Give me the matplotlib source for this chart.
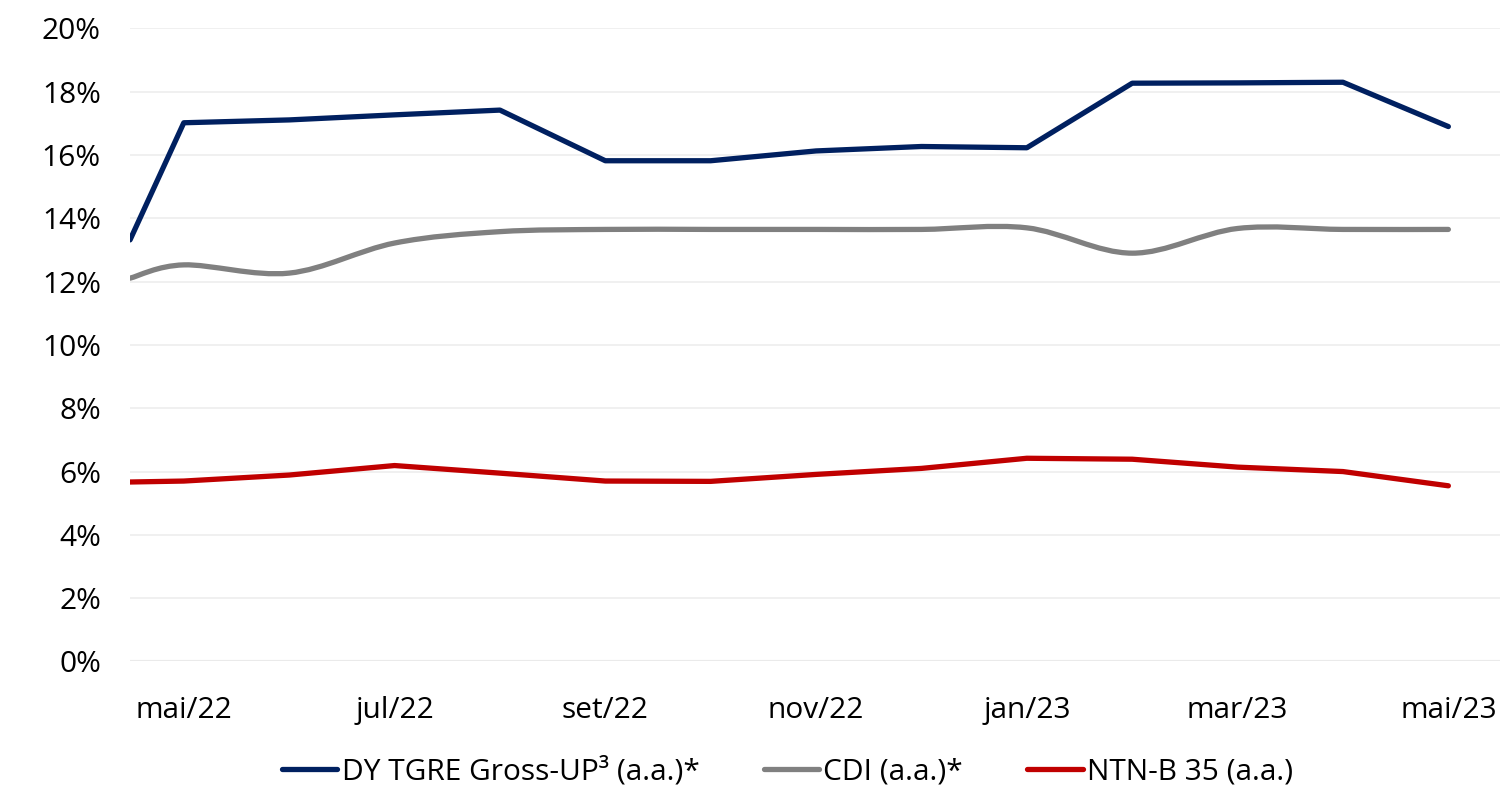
import numpy as np
import matplotlib
matplotlib.use('Agg')
import matplotlib.pyplot as plt
from matplotlib.path import Path
from matplotlib.patches import PathPatch
from matplotlib.lines import Line2D
from matplotlib.ticker import FuncFormatter

plt.rcParams['font.family'] = ['Open Sans', 'DejaVu Sans']

# month index (0 = mai/22); first point sits half a month before
months = [-0.51, 0, 1, 2, 3, 4, 5, 6, 7, 8, 9, 10, 11, 12]
tick_pos = [0, 2, 4, 6, 8, 10, 12]
tick_labels = ['mai/22', 'jul/22', 'set/22', 'nov/22', 'jan/23', 'mar/23', 'mai/23']

dy_tgre = [13.32, 17.02, 17.11, 17.27, 17.42, 15.82, 15.82, 16.13, 16.27, 16.23,
           18.27, 18.28, 18.30, 16.90]
cdi = [12.11, 12.53, 12.27, 13.22, 13.58, 13.65, 13.65, 13.65, 13.65, 13.70,
       12.90, 13.68, 13.65, 13.65]
ntnb = [5.67, 5.70, 5.89, 6.19, 5.95, 5.70, 5.69, 5.91, 6.10, 6.42,
        6.39, 6.14, 6.00, 5.55]

NAVY = '#002060'
GRAY = '#808080'
RED = '#C00000'
LW = 3.8
FS = 21.5


def smooth_path(x, y):
    """Excel-style smoothed line: cubic Bezier segments through every point."""
    x = np.asarray(x, float)
    y = np.asarray(y, float)
    verts = [(x[0], y[0])]
    codes = [Path.MOVETO]
    n = len(x)
    for i in range(n - 1):
        i0 = max(i - 1, 0)
        i3 = min(i + 2, n - 1)
        c1 = (x[i] + (x[i + 1] - x[i0]) / 6, y[i] + (y[i + 1] - y[i0]) / 6)
        c2 = (x[i + 1] - (x[i3] - x[i]) / 6, y[i + 1] - (y[i3] - y[i]) / 6)
        verts += [c1, c2, (x[i + 1], y[i + 1])]
        codes += [Path.CURVE4] * 3
    return Path(verts, codes)


fig = plt.figure(figsize=(15, 7.9), dpi=100)
ax = fig.add_axes([0.0867, 0.1627, 0.9133, 0.8013])

ax.plot(months, ntnb, color=RED, lw=LW, solid_capstyle='round', solid_joinstyle='round', zorder=3)
ax.add_patch(PathPatch(smooth_path(months, cdi), facecolor='none', edgecolor=GRAY,
                       lw=LW, capstyle='round', zorder=3))
ax.plot(months, dy_tgre, color=NAVY, lw=LW, solid_capstyle='round', solid_joinstyle='round', zorder=4)

ax.set_xlim(-0.51, 12.49)
ax.set_ylim(0, 20)
ax.set_yticks(np.arange(0, 21, 2))
ax.yaxis.set_major_formatter(FuncFormatter(lambda v, p: f'{v:.0f}%'))
ax.set_xticks(tick_pos)
ax.set_xticklabels(tick_labels)

ax.grid(axis='y', color='#EEEEEE', lw=1.2, zorder=0)
ax.axhline(0, color='#D9D9D9', lw=1.5, zorder=1)
for s in ax.spines.values():
    s.set_visible(False)
ax.tick_params(axis='both', length=0, labelsize=FS, colors='#000000')
ax.tick_params(axis='y', pad=21)
ax.tick_params(axis='x', pad=25)

handles = [Line2D([], [], color=c, lw=LW, solid_capstyle='round') for c in (NAVY, GRAY, RED)]
fig.legend(handles, ['DY TGRE Gross-UP³ (a.a.)*', 'CDI (a.a.)*', 'NTN-B 35 (a.a.)'],
           loc='center', bbox_to_anchor=(0.525, 0.023), ncol=3, frameon=False,
           fontsize=FS, handlelength=1.85, handletextpad=0.15, columnspacing=2.15)

fig.savefig('out.png', dpi=100)
